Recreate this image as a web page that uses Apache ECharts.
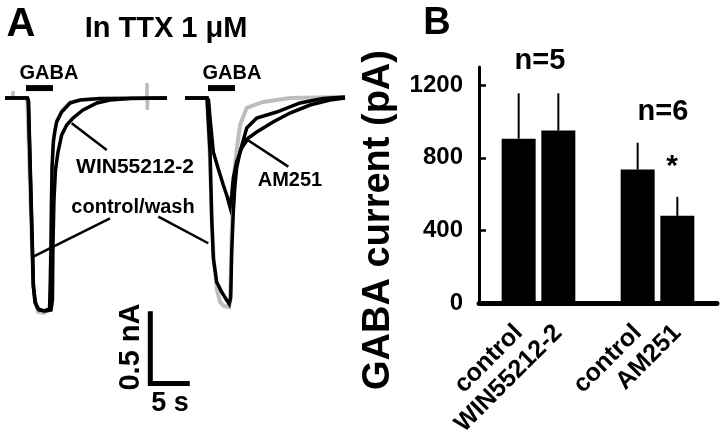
<!DOCTYPE html>
<html><head><meta charset="utf-8">
<script src="https://cdn.jsdelivr.net/npm/echarts@6/dist/echarts.min.js"></script>
<style>html,body{margin:0;padding:0;background:#fff}#c{width:720px;height:437px}</style>
</head><body><div id="c"></div>
<script>
// ---------- Panel A: example traces, [time (s), current (nA)] ----------
const leftWash = [[0,0],[0.93,0],[0.95,0.048],[0.98,0],[2.62,0],[2.74,-0.007],[3.33,-1.267],[3.57,-1.404],[3.93,-1.466],[4.64,-1.473],[5.30,-1.452],[5.38,-1.281],[5.45,-0.973],[5.51,-0.699],[5.60,-0.459],[5.83,-0.274],[6.19,-0.151],[6.79,-0.082],[7.74,-0.027],[9.52,-0.01],[16.88,0],[16.90,0.103],[16.94,-0.082],[16.98,0],[19.29,0]];
const leftControl = [[0,0],[2.62,0],[2.77,-0.014],[3.37,-1.281],[3.57,-1.397],[3.93,-1.445],[4.64,-1.459],[5.30,-1.445],[5.39,-1.281],[5.48,-1.007],[5.54,-0.712],[5.60,-0.479],[5.75,-0.301],[5.95,-0.22],[6.15,-0.164],[6.75,-0.096],[7.74,-0.034],[8.93,-0.014],[11.31,-0.003],[19.29,0]];
const leftWin = [[0,0],[2.68,0],[2.80,-0.021],[3.39,-1.295],[3.63,-1.404],[4.05,-1.452],[4.76,-1.459],[5.48,-1.452],[5.65,-1.384],[5.71,-1.007],[5.83,-0.699],[6.01,-0.493],[6.31,-0.370],[6.75,-0.253],[7.35,-0.185],[8.10,-0.137],[9.29,-0.082],[10.95,-0.034],[12.50,-0.014],[14.88,-0.003],[19.29,0]];
const rightWash = [[0,0],[2.62,0],[2.74,-0.007],[2.98,-0.425],[3.21,-0.870],[3.45,-1.123],[3.81,-1.315],[4.17,-1.397],[4.64,-1.425],[5.24,-1.432],[5.42,-1.315],[5.54,-0.973],[5.71,-0.664],[5.95,-0.459],[6.19,-0.342],[6.55,-0.185],[7.35,-0.068],[9.29,-0.027],[12.50,0],[19.05,0.007]];
const rightControl = [[0,0],[2.62,0],[2.77,-0.007],[2.98,-0.370],[3.18,-0.822],[3.37,-1.096],[3.77,-1.260],[4.37,-1.329],[4.96,-1.384],[5.27,-1.411],[5.44,-1.370],[5.56,-1.055],[5.75,-0.781],[5.95,-0.596],[6.15,-0.479],[6.55,-0.370],[7.35,-0.205],[8.54,-0.137],[10.92,-0.096],[13.69,-0.034],[16.43,-0.003],[19.05,0.007]];
const rightAm251 = [[0,0],[2.62,0],[2.80,-0.014],[2.98,-0.137],[3.37,-0.370],[3.93,-0.479],[4.56,-0.596],[5.00,-0.671],[5.36,-0.747],[5.56,-0.664],[5.75,-0.548],[6.15,-0.438],[6.75,-0.342],[7.54,-0.274],[8.54,-0.233],[10.48,-0.164],[12.50,-0.103],[14.88,-0.048],[17.26,-0.014],[19.05,0]];
// GABA application bars, label leader lines and scale bar (time s, current nA)
const gabaLeft = [[2.5,0.068],[5.71,0.068]];
const gabaRight = [[2.74,0.068],[5.95,0.068]];
const winPointer = [[7.94,-0.173],[12.11,-0.356]];
const washPointerLeft = [[3.37,-1.087],[12.5,-0.824]];
const washPointerRight = [[18.25,-0.813],[24.2,-0.995]];
const amPointer = [[7.14,-0.276],[12.30,-0.470]];
const scaleBar = [[17.3,-1.46],[17.3,-1.955],[22.0,-1.955]];

// ---------- Panel B: mean GABA current (pA) ----------
const categories = ['', 'control', 'WIN55212-2', '', 'control', 'AM251', ''];
const meanCurrent = [null, 905, 950, null, 735, 480, null];
const semCurrent  = [null, 250, 205, null, 148, 105, null];
const yTicks = [0, 400, 800, 1200];

const FF = '"Liberation Sans", Arial, Helvetica, sans-serif';
const errData = [];
meanCurrent.forEach((m, i) => { if (m != null) errData.push([i, m, m + semCurrent[i]]); });
const barData = meanCurrent.map(v => v == null ? '-' : v);

function lineSeries(data, xi, color, width) {
  return { type: 'line', xAxisIndex: xi, yAxisIndex: xi, data: data, showSymbol: false, symbol: 'none',
    silent: true, lineStyle: { color: color, width: width, cap: 'butt', join: 'miter' } };
}
function txt(text, x, y, size, rot) {
  return { type: 'text', x: x, y: y, rotation: rot || 0, silent: true,
    style: { text: text, fontSize: size, fontWeight: 'bold', fontFamily: FF, fill: '#000', align: 'center', verticalAlign: 'middle' } };
}

const chart = echarts.init(document.getElementById('c'), null, { renderer: 'canvas' });
chart.setOption({
  animation: false,
  backgroundColor: '#fff',
  grid: [
    { left: 5, top: 25, width: 210, height: 365, outerBoundsMode: 'none' },
    { left: 185, top: 25, width: 168, height: 365, outerBoundsMode: 'none' },
    { left: 479, top: 67, width: 238, height: 236, outerBoundsMode: 'none' }
  ],
  xAxis: [
    { gridIndex: 0, type: 'value', min: 0, max: 25, show: false },
    { gridIndex: 1, type: 'value', min: 0, max: 20, show: false },
    { gridIndex: 2, type: 'category', data: categories, boundaryGap: false,
      axisLine: { show: true, lineStyle: { color: '#000', width: 5 } },
      axisTick: { show: false },
      axisLabel: { interval: 0, rotate: 45, margin: 26, fontSize: 25, fontWeight: 'bold', fontFamily: FF, color: '#000' } }
  ],
  yAxis: [
    { gridIndex: 0, type: 'value', min: -2, max: 0.5, show: false },
    { gridIndex: 1, type: 'value', min: -2, max: 0.5, show: false },
    { gridIndex: 2, type: 'value', min: 0, max: 1300, interval: 400,
      axisLine: { show: true, lineStyle: { color: '#000', width: 3 } },
      axisTick: { show: true, inside: true, length: 7, lineStyle: { color: '#000', width: 2.5 }, customValues: yTicks },
      axisLabel: { customValues: yTicks, margin: 16, fontSize: 24, fontWeight: 'bold', fontFamily: FF, color: '#000',
        formatter: v => yTicks.indexOf(v) >= 0 ? String(v) : '' },
      splitLine: { show: false } }
  ],
  series: [
    lineSeries(leftWash, 0, '#bdbdbd', 3.5),
    lineSeries(leftControl, 0, '#000', 3.5),
    lineSeries(leftWin, 0, '#000', 3.5),
    lineSeries(rightWash, 1, '#bdbdbd', 4),
    lineSeries(rightControl, 1, '#000', 3.5),
    lineSeries(rightAm251, 1, '#000', 3.5),
    lineSeries(gabaLeft, 0, '#000', 6),
    lineSeries(gabaRight, 1, '#000', 6),
    lineSeries(winPointer, 0, '#000', 2.5),
    lineSeries(washPointerLeft, 0, '#000', 2.5),
    lineSeries(washPointerRight, 0, '#000', 2.5),
    lineSeries(amPointer, 1, '#000', 2.5),
    lineSeries(scaleBar, 0, '#000', 5),
    { type: 'bar', xAxisIndex: 2, yAxisIndex: 2, data: barData, barWidth: 34, silent: true,
      itemStyle: { color: '#000' } },
    { type: 'custom', xAxisIndex: 2, yAxisIndex: 2, data: errData, silent: true, z: 3,
      encode: { x: 0, y: [1, 2] },
      renderItem: function (params, api) {
        const x = api.value(0);
        const p1 = api.coord([x, api.value(1)]);
        const p2 = api.coord([x, api.value(2)]);
        return { type: 'line', shape: { x1: p1[0], y1: p1[1], x2: p2[0], y2: p2[1] },
          style: { stroke: '#000', lineWidth: 2 } };
      } }
  ],
  graphic: [
    txt('A', 21, 25, 40),
    txt('In TTX 1 μM', 166, 29, 29),
    txt('GABA', 49, 73, 20),
    txt('GABA', 232, 73, 20),
    txt('WIN55212-2', 135, 167, 21),
    txt('AM251', 290, 180, 20),
    txt('control/wash', 133, 207, 20),
    txt('0.5 nA', 131, 347, 29, Math.PI / 2),
    txt('5 s', 170, 404, 27),
    txt('B', 437, 24, 38),
    txt('GABA current (pA)', 379, 220, 38, Math.PI / 2),
    txt('n=5', 540, 61, 29),
    txt('n=6', 663, 112, 29),
    txt('*', 672, 167, 30)
  ]
});
</script></body></html>
